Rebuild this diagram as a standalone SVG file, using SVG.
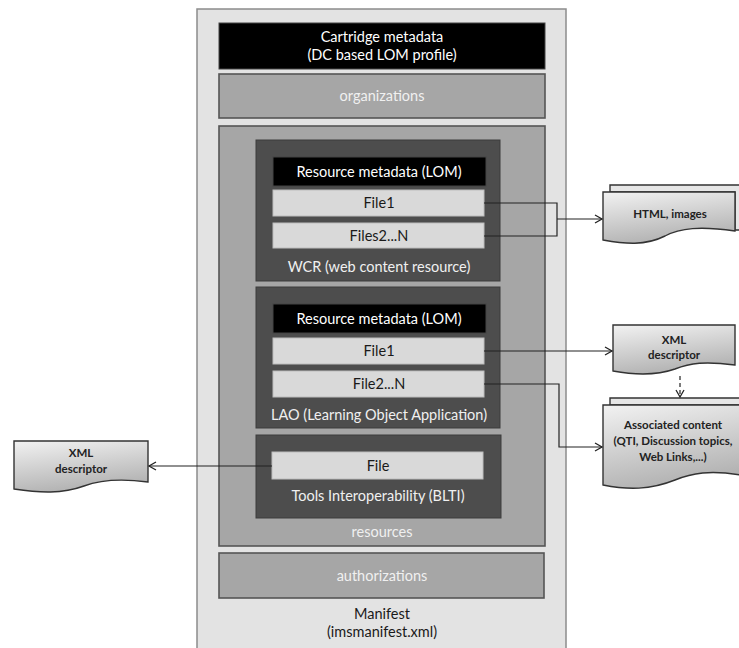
<svg xmlns="http://www.w3.org/2000/svg" width="739" height="648" viewBox="0 0 739 648">
<defs>
<linearGradient id="docg" x1="0" y1="0" x2="0.3" y2="1">
<stop offset="0" stop-color="#f2f2f2"/>
<stop offset="1" stop-color="#b3b3b3"/>
</linearGradient>
<marker id="arr" markerWidth="10" markerHeight="10" refX="8" refY="5" orient="auto" markerUnits="userSpaceOnUse">
<path d="M1,1 L8,5 L1,9" fill="none" stroke="#222" stroke-width="1.3"/>
</marker>
<style>
text{font-family:Lato,"Liberation Sans",sans-serif;text-anchor:middle}
.mf{fill:#e3e3e3;stroke:#8c8c8c;stroke-width:1.5}
.blk{fill:#000;stroke:#444;stroke-width:1}
.gry{fill:#a6a6a6;stroke:#555;stroke-width:1.6}
.drk{fill:#4d4d4d;stroke:#3d3d3d;stroke-width:1}
.fil{fill:#d9d9d9;stroke:#bdbdbd;stroke-width:1}
.wt{fill:#fff;font-size:14.5px}
.lt{fill:#f0f0f0;font-size:14.5px}
.dk{fill:#1a1a1a;font-size:14.5px}
.doc{fill:url(#docg);stroke:#333;stroke-width:1.4}
.back{fill:#e6e6e6;stroke:#333;stroke-width:1.4}
.dt{fill:#222;font-size:11.5px;font-weight:bold}
.cn{fill:none;stroke:#222;stroke-width:1.2}
</style>
</defs>

<g id="manifest">
<rect class="mf" x="197" y="9" width="369" height="645"/>
<text class="dk" x="382" y="619">Manifest</text>
<text class="dk" x="382" y="637">(imsmanifest.xml)</text>
</g>

<g id="cartridge-metadata">
<rect class="blk" x="219" y="23" width="326" height="46"/>
<text class="wt" x="382" y="42">Cartridge metadata</text>
<text class="wt" x="382" y="60">(DC based LOM profile)</text>
</g>

<g id="organizations">
<rect class="gry" x="219" y="74" width="326" height="44"/>
<text class="lt" x="382" y="101">organizations</text>
</g>

<g id="resources">
<rect class="gry" x="219" y="126" width="326" height="420"/>
<text class="lt" x="382" y="537">resources</text>
</g>

<g id="wcr">
<rect class="drk" x="256" y="140" width="244" height="141"/>
<rect class="blk" x="273" y="157" width="213" height="29"/>
<text class="wt" x="379" y="177">Resource metadata (LOM)</text>
<rect class="fil" x="273" y="190" width="211" height="26"/>
<text class="dk" x="379" y="208">File1</text>
<rect class="fil" x="273" y="223" width="211" height="25"/>
<text class="dk" x="379" y="241">Files2...N</text>
<text class="lt" x="379" y="272">WCR (web content resource)</text>
</g>

<g id="lao">
<rect class="drk" x="256" y="287" width="244" height="141"/>
<rect class="blk" x="273" y="304" width="213" height="29"/>
<text class="wt" x="379" y="324">Resource metadata (LOM)</text>
<rect class="fil" x="273" y="338" width="211" height="26"/>
<text class="dk" x="379" y="356">File1</text>
<rect class="fil" x="273" y="371" width="211" height="26"/>
<text class="dk" x="379" y="389">File2...N</text>
<text class="lt" x="379" y="420">LAO (Learning Object Application)</text>
</g>

<g id="blti">
<rect class="drk" x="256" y="435" width="245" height="83"/>
<rect class="fil" x="272" y="452" width="211" height="27"/>
<text class="dk" x="378" y="471">File</text>
<text class="lt" x="378" y="501">Tools Interoperability (BLTI)</text>
</g>

<g id="authorizations">
<rect class="gry" x="219" y="553" width="325" height="45"/>
<text class="lt" x="382" y="581">authorizations</text>
</g>

<g id="html-images">
<path class="back" d="M610,185 H741 V230 L735,230 V192 H610 Z"/>
<path class="doc" d="M603,192 H735 V231 C700,226 680,228 665,236 C645,246 625,244 603,240 Z"/>
<text class="dt" x="670" y="218">HTML, images</text>
</g>

<g id="xml-descriptor-right">
<path class="doc" d="M613,325 H735 V365 C705,361 690,363 675,369 C655,376 635,375 613,371 Z"/>
<text class="dt" x="674" y="344">XML</text>
<text class="dt" x="674" y="359">descriptor</text>
</g>

<g id="associated-content">
<path class="back" d="M610,398 H741 V470 L741,470 V405 H610 Z"/>
<path class="doc" d="M603,405 H741 V475 C710,470 692,473 675,480 C650,490 628,490 603,485 Z"/>
<text class="dt" x="673" y="429">Associated content</text>
<text class="dt" x="673" y="445">(QTI, Discussion topics,</text>
<text class="dt" x="673" y="461">Web Links,...)</text>
</g>

<g id="xml-descriptor-left">
<path class="doc" d="M14,441 H148 V482 C118,478 100,480 84,486 C62,494 40,493 14,489 Z"/>
<text class="dt" x="81" y="457">XML</text>
<text class="dt" x="81" y="473">descriptor</text>
</g>

<g id="connectors">
<path class="cn" d="M484,203 H557 V236 H484"/>
<path class="cn" d="M557,219 H602" marker-end="url(#arr)"/>
<path class="cn" d="M484,351 H612" marker-end="url(#arr)"/>
<path class="cn" d="M484,384 H559 V447 H602" marker-end="url(#arr)"/>
<path class="cn" d="M680,376 V397" stroke-dasharray="4,3" marker-end="url(#arr)"/>
<path class="cn" d="M272,466 H149" marker-end="url(#arr)"/>
</g>
</svg>
